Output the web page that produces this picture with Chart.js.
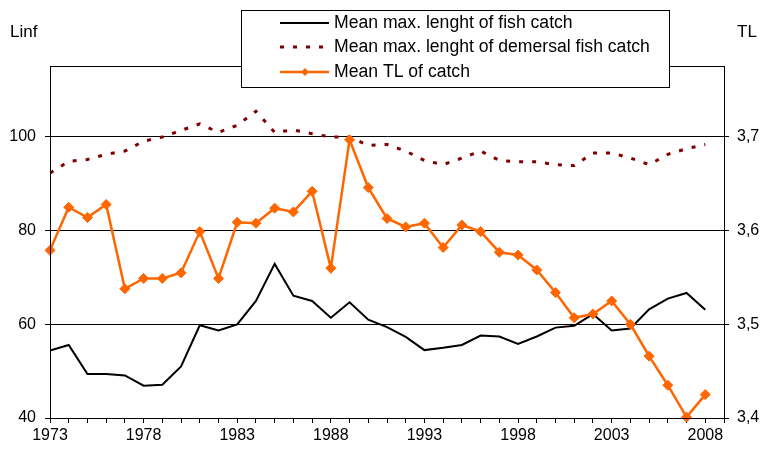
<!DOCTYPE html>
<html>
<head>
<meta charset="utf-8">
<script src="https://cdn.jsdelivr.net/npm/chart.js@4.4.1/dist/chart.umd.min.js"></script>
<style>
html, body { margin: 0; padding: 0; background: #fff; }
#wrap { position: relative; width: 764px; height: 453px; }
</style>
</head>
<body>
<div id="wrap"><canvas id="chart"></canvas></div>
<script>
// Years on the x axis
const years = [1973, 1974, 1975, 1976, 1977, 1978, 1979, 1980, 1981, 1982, 1983, 1984,
               1985, 1986, 1987, 1988, 1989, 1990, 1991, 1992, 1993, 1994, 1995, 1996,
               1997, 1998, 1999, 2000, 2001, 2002, 2003, 2004, 2005, 2006, 2007, 2008];

// Mean max. length (Linf, left axis)
const fishLength = [54.4, 55.6, 49.4, 49.4, 49.1, 46.9, 47.1, 51.0, 59.8, 58.7, 60.0, 65.0,
                    72.9, 66.1, 65.0, 61.4, 64.7, 61.0, 59.4, 57.3, 54.5, 55.0, 55.6, 57.6,
                    57.4, 55.8, 57.4, 59.3, 59.7, 62.2, 58.7, 59.1, 63.2, 65.5, 66.7, 63.1];
const demersalLength = [92.3, 94.8, 95.2, 96.3, 97.0, 99.1, 100.0, 101.4, 102.8, 101.0, 102.5, 105.5,
                        101.0, 101.5, 100.7, 100.0, 100.0, 98.2, 98.4, 97.0, 95.0, 94.1, 95.5, 97.0,
                        95.0, 94.7, 94.7, 94.1, 93.9, 96.6, 96.6, 95.5, 94.1, 96.3, 97.5, 98.4];

// Mean trophic level (TL, right axis)
const trophicLevel = [3.579, 3.625, 3.614, 3.628, 3.538, 3.549, 3.549, 3.555, 3.599, 3.549, 3.609, 3.608,
                      3.624, 3.620, 3.642, 3.560, 3.697, 3.646, 3.613, 3.604, 3.608, 3.582, 3.606, 3.599,
                      3.577, 3.574, 3.558, 3.534, 3.507, 3.511, 3.525, 3.500, 3.466, 3.435, 3.401, 3.425];

// Tick labels
const linfTicks = [40, 60, 80, 100];
const tlTicks = [3.4, 3.5, 3.6, 3.7];

const FONT = '"Liberation Sans", Arial, sans-serif';

function toPoints(values) {
    return years.map((y, i) => ({ x: y, y: values[i] }));
}

// Frame around the plot, axis titles and the boxed legend
const decorations = {
    id: 'decorations',
    afterDraw(chart) {
        const ctx = chart.ctx;
        const a = chart.chartArea;
        ctx.save();
        ctx.strokeStyle = '#000';
        ctx.lineWidth = 1;
        ctx.strokeRect(Math.round(a.left) + 0.5, Math.round(a.top) + 0.5,
                       Math.round(a.right - a.left), Math.round(a.bottom - a.top));

        ctx.fillStyle = '#000';
        ctx.font = '17px ' + FONT;
        ctx.textBaseline = 'middle';
        ctx.textAlign = 'left';
        ctx.fillText('Linf', 10, 32);
        ctx.fillText('TL', 737, 32);

        // legend
        ctx.font = '17.6px ' + FONT;
        ctx.fillStyle = '#fff';
        ctx.fillRect(241, 10, 428, 77);
        ctx.strokeRect(241.5, 10.5, 428, 77);
        const rows = [23, 47, 72];
        chart.data.datasets.forEach((ds, i) => {
            const y = rows[i];
            ctx.save();
            ctx.strokeStyle = ds.borderColor;
            ctx.lineWidth = ds.borderWidth;
            ctx.setLineDash(ds.borderDash || []);
            ctx.beginPath();
            ctx.moveTo(280, y);
            ctx.lineTo(329, y);
            ctx.stroke();
            if (ds.pointRadius > 0) {
                ctx.setLineDash([]);
                ctx.fillStyle = ds.borderColor;
                ctx.beginPath();
                ctx.moveTo(305, y - 4);
                ctx.lineTo(309, y);
                ctx.lineTo(305, y + 4);
                ctx.lineTo(301, y);
                ctx.closePath();
                ctx.fill();
            }
            ctx.restore();
            ctx.fillStyle = '#000';
            ctx.fillText(ds.label, 334, y);
        });
        ctx.restore();
    }
};

const ctx = document.getElementById('chart').getContext('2d');
new Chart(ctx, {
    type: 'line',
    data: {
        datasets: [
            {
                label: 'Mean max. lenght of fish catch',
                data: toPoints(fishLength),
                yAxisID: 'y',
                borderColor: '#000000',
                borderWidth: 2,
                pointRadius: 0,
                tension: 0,
                order: 1
            },
            {
                label: 'Mean max. lenght of demersal fish catch',
                data: toPoints(demersalLength),
                yAxisID: 'y',
                borderColor: '#800000',
                borderWidth: 3,
                borderDash: [4, 9],
                borderCapStyle: 'butt',
                pointRadius: 0,
                tension: 0,
                order: 2
            },
            {
                label: 'Mean TL of catch',
                data: toPoints(trophicLevel),
                yAxisID: 'y1',
                borderColor: '#FF6600',
                backgroundColor: '#FF6600',
                borderWidth: 2.5,
                pointStyle: 'rectRot',
                pointRadius: 5,
                pointBorderWidth: 1,
                tension: 0,
                clip: false,
                order: 0
            }
        ]
    },
    options: {
        responsive: true,
        maintainAspectRatio: false,
        animation: false,
        layout: { padding: { top: 66, left: 0, right: 0, bottom: 0 } },
        plugins: {
            legend: { display: false },
            tooltip: { enabled: false }
        },
        scales: {
            x: {
                type: 'linear',
                min: 1973,
                max: 2009,
                afterFit(scale) { scale.height = 35; },
                grid: { drawOnChartArea: false, drawTicks: true, tickLength: 5, color: '#000' },
                border: { color: '#000' },
                ticks: {
                    stepSize: 1,
                    autoSkip: false,
                    maxRotation: 0,
                    padding: 3,
                    color: '#000',
                    font: { size: 16, family: FONT },
                    callback: (v) => ((v - 1973) % 5 === 0 ? String(v) : '')
                }
            },
            y: {
                position: 'left',
                min: 40,
                max: 115.16,
                afterFit(scale) { scale.width = 50; },
                afterBuildTicks(scale) { scale.ticks = linfTicks.map(v => ({ value: v })); },
                grid: { color: '#000', tickLength: 5 },
                border: { color: '#000' },
                ticks: {
                    padding: 9,
                    color: '#000',
                    font: { size: 16, family: FONT },
                    callback: (v) => String(v)
                }
            },
            y1: {
                position: 'right',
                min: 3.4,
                max: 3.7758,
                afterFit(scale) { scale.width = 40; },
                afterBuildTicks(scale) { scale.ticks = tlTicks.map(v => ({ value: v })); },
                grid: { drawOnChartArea: false, color: '#000', tickLength: 5 },
                border: { color: '#000' },
                ticks: {
                    padding: 8,
                    color: '#000',
                    font: { size: 16, family: FONT },
                    callback: (v) => v.toFixed(1).replace('.', ',')
                }
            }
        }
    },
    plugins: [decorations]
});
</script>
</body>
</html>
